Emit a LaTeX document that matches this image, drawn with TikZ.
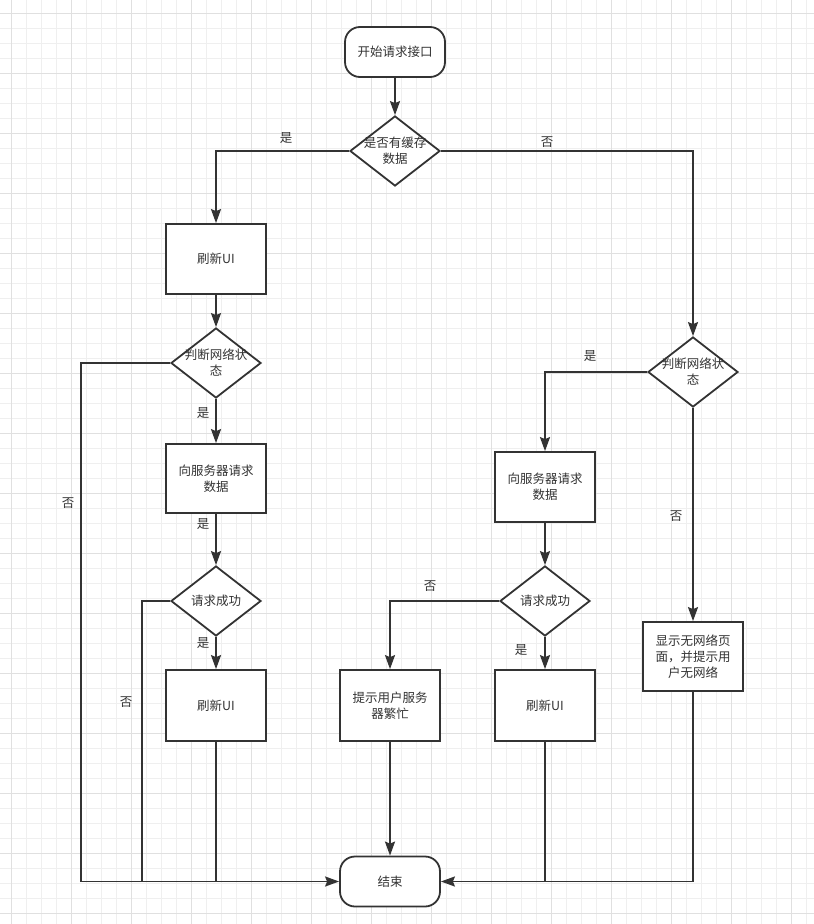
\documentclass[tikz,border=0pt]{standalone}
\usepackage{fontspec}
\setmainfont{Noto Sans CJK SC}
\usetikzlibrary{shapes.geometric,arrows.meta}
\definecolor{ink}{HTML}{333333}
\definecolor{gridminor}{HTML}{EFEFEF}
\definecolor{gridmajor}{HTML}{E0E0E0}
\tikzset{
  base/.style={draw=ink,line width=1.8pt,fill=white,text=ink,inner sep=0pt,align=center,font=\fontsize{12.5pt}{16pt}\selectfont},
  procbox/.style={base,rectangle,minimum width=100pt,minimum height=70pt},
  termbox/.style={base,rectangle,rounded corners=15pt,minimum width=100pt,minimum height=50pt},
  decbox/.style={base,diamond,minimum width=90pt,minimum height=70pt,aspect=1.29},
  conn/.style={draw=ink,line width=1.8pt},
  arr/.style={conn,-{Stealth[length=14pt,width=10pt,inset=2pt]}},
  lbl/.style={text=ink,font=\fontsize{12.5pt}{16pt}\selectfont,inner sep=0pt}
}
\begin{document}
\begin{tikzpicture}[x=1pt,y=-1pt]
\useasboundingbox (0,0) rectangle (814,924);
\fill[white] (0,0) rectangle (814,924);
% grid
\foreach \gx in {11,26,...,814} \draw[gridminor,line width=0.8pt] (\gx,0) -- (\gx,924);
\foreach \gy in {13,28,...,924} \draw[gridminor,line width=0.8pt] (0,\gy) -- (814,\gy);
\foreach \gx in {11,71,...,814} \draw[gridmajor,line width=0.8pt] (\gx,0) -- (\gx,924);
\foreach \gy in {13,73,...,924} \draw[gridmajor,line width=0.8pt] (0,\gy) -- (814,\gy);

% nodes
\node[termbox] (start) at (395,52) {开始请求接口};
\node[decbox, label={[lbl,align=center]center:是否有缓存\\数据}] (d1) at (395,151) {};
\node[procbox] (b1) at (216,259) {刷新UI};
\node[decbox, label={[lbl,align=center]center:判断网络状\\态}] (d2) at (216,363) {};
\node[procbox,minimum height=69pt] (b2) at (216,478.5) {向服务器请求\\数据};
\node[decbox, label={[lbl]center:请求成功}] (d3) at (216,601) {};
\node[procbox,minimum height=71pt] (b3) at (216,705.5) {刷新UI};
\node[decbox, label={[lbl,align=center]center:判断网络状\\态}] (d4) at (693,372) {};
\node[procbox] (b4) at (545,487) {向服务器请求\\数据};
\node[decbox, label={[lbl]center:请求成功}] (d5) at (545,601) {};
\node[procbox,minimum height=71pt] (b5) at (390,705.5) {提示用户服务\\器繁忙};
\node[procbox,minimum height=71pt] (b6) at (545,705.5) {刷新UI};
\node[procbox,minimum height=69pt] (b7) at (693,656.5) {显示无网络页\\面，并提示用\\户无网络};
\node[termbox] (end) at (390,881.5) {结束};

\coordinate (cL) at (81,881.5);
\coordinate (cL2) at (142,881.5);

% connectors
\draw[arr] (start) -- (d1);
\draw[arr] (d1.west) -| (b1.north);
\draw[arr] (d1.east) -| (d4.north);
\draw[arr] (b1) -- (d2);
\draw[arr] (d2.west) -| (cL) -- (end.west);
\draw[arr] (d2) -- (b2);
\draw[arr] (b2) -- (d3);
\draw[conn] (d3.west) -| (cL2);
\draw[arr] (d3) -- (b3);
\draw[conn] (b3.south) -- (b3.south |- end.west);
\draw[arr] (d4.west) -| (b4.north);
\draw[arr] (d4) -- (b7);
\draw[arr] (b7.south) |- (end.east);
\draw[arr] (b4) -- (d5);
\draw[arr] (d5.west) -| (b5.north);
\draw[arr] (d5) -- (b6);
\draw[conn] (b6.south) -- (b6.south |- end.east);
\draw[arr] (b5) -- (end);

% labels
\node[lbl] (l1) at (286,138) {是};
\node[lbl] (l2) at (547,142) {否};
\node[lbl] (l3) at (68,503) {否};
\node[lbl] (l4) at (203,413) {是};
\node[lbl] (l5) at (203,524) {是};
\node[lbl] (l6) at (203,643) {是};
\node[lbl] (l7) at (126,702) {否};
\node[lbl] (l8) at (590,356) {是};
\node[lbl] (l9) at (676,516) {否};
\node[lbl] (l10) at (430,586) {否};
\node[lbl] (l11) at (521,650) {是};
\end{tikzpicture}
\end{document}
